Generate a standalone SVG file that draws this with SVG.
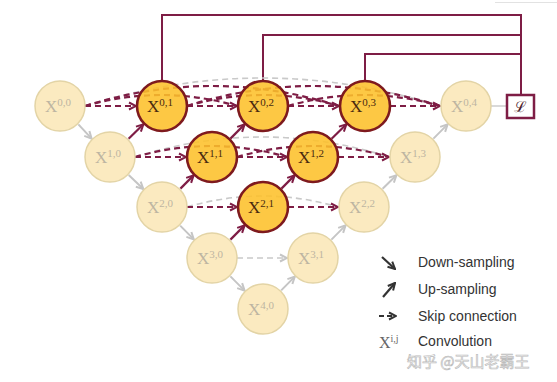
<svg xmlns="http://www.w3.org/2000/svg" width="557" height="382" viewBox="0 0 557 382">
<defs>
<style>
.act circle{fill:#FDC02A;fill-opacity:.88;stroke:#7E1A1E;stroke-width:2.6}
.ina circle{fill:#FBEAC0;stroke:#E3D4A6;stroke-width:1.5}
.act text{fill:#4a2a10}
.ina text{fill:#bdb5a2}
.lbl{font-family:"Liberation Serif","DejaVu Serif",serif;font-size:17px;text-anchor:middle}
.sup{font-size:11px}
.sk{fill:none;stroke:#7E1D45;stroke-width:2.2;stroke-dasharray:6 4}
.skg{fill:none;stroke:#C9C9C9;stroke-width:1.6;stroke-dasharray:6 4}
.up{fill:none;stroke:#7E1D45;stroke-width:2.2}
.upg{fill:none;stroke:#C5C5C5;stroke-width:2}
.fb{fill:none;stroke:#7E1D45;stroke-width:2}
.leg{font-family:"Liberation Sans",Arial,sans-serif;font-size:14px;fill:#333}
</style>
<marker id="am" viewBox="0 0 10 10" refX="9" refY="5" markerWidth="10" markerHeight="10" markerUnits="userSpaceOnUse" orient="auto">
<path d="M2,1.5 L9,5 L2,8.5" fill="none" stroke="#7E1D45" stroke-width="2"/>
</marker>
<marker id="ag" viewBox="0 0 10 10" refX="9" refY="5" markerWidth="10" markerHeight="10" markerUnits="userSpaceOnUse" orient="auto">
<path d="M2,1.5 L9,5 L2,8.5" fill="none" stroke="#C5C5C5" stroke-width="2"/>
</marker>
<marker id="ad" viewBox="0 0 10 10" refX="9" refY="5" markerWidth="10" markerHeight="10" markerUnits="userSpaceOnUse" orient="auto">
<path d="M2,1.5 L9,5 L2,8.5" fill="none" stroke="#333" stroke-width="2"/>
</marker>
</defs>
<rect width="557" height="382" fill="#fff"/>
<path d="M495,2.5 H557" stroke="#e2e2e2" stroke-width="1"/>

<g id="connectors">
<!-- feedback / deep supervision lines -->
<path class="fb" d="M162,81 V15 H521 V95"/>
<path class="fb" d="M263,81 V35 H521"/>
<path class="fb" d="M365,81 V54 H521"/>
<path d="M491,106 H507" stroke="#CCCCCC" stroke-width="1.5"/>
<!-- gray skip arcs -->
<path class="skg" d="M85,106 Q262,50 440,106"/>
<path class="skg" d="M135,157 Q262,117 389,157"/>
<path class="skg" d="M187,207 Q263,185 338,207"/>
<path class="skg" d="M237,258 L287,258" marker-end="url(#ag)"/>
<!-- maroon skip arcs -->
<path class="sk" d="M85,106 Q161,84 237,106"/>
<path class="sk" d="M85,106 Q212,66 339,106"/>
<path class="sk" d="M187,106 Q263,84 339,106"/>
<path class="sk" d="M187,106 Q313,66 440,106"/>
<path class="sk" d="M288,106 Q364,84 440,106"/>
<path class="sk" d="M135,157 Q211,135 287,157"/>
<path class="sk" d="M237,157 Q313,135 389,157"/>
<!-- straight skips -->
<path class="sk" d="M85,106 L136,106" marker-end="url(#am)"/>
<path class="sk" d="M187,106 L237,106" marker-end="url(#am)"/>
<path class="sk" d="M288,106 L339,106" marker-end="url(#am)"/>
<path class="sk" d="M390,106 L440,106" marker-end="url(#am)"/>
<path class="sk" d="M135,157 L186,157" marker-end="url(#am)"/>
<path class="sk" d="M237,157 L287,157" marker-end="url(#am)"/>
<path class="sk" d="M338,157 L389,157" marker-end="url(#am)"/>
<path class="sk" d="M187,207 L237,207" marker-end="url(#am)"/>
<path class="sk" d="M288,207 L338,207" marker-end="url(#am)"/>
<!-- down-sampling -->
<path class="upg" d="M78.4,124.4 L91.6,138.6" marker-end="url(#ag)"/>
<path class="upg" d="M128.7,175 L143.3,189" marker-end="url(#ag)"/>
<path class="upg" d="M180.2,225.6 L193.8,239.4" marker-end="url(#ag)"/>
<path class="upg" d="M230.4,276.4 L244.6,290.6" marker-end="url(#ag)"/>
<!-- up-sampling -->
<path class="up" d="M128.6,138.8 L143.4,124.2" marker-end="url(#am)"/>
<path class="up" d="M230.4,138.6 L244.6,124.4" marker-end="url(#am)"/>
<path class="up" d="M331.6,138.8 L346.4,124.2" marker-end="url(#am)"/>
<path class="upg" d="M433.4,138.6 L447.6,124.4" marker-end="url(#ag)"/>
<path class="up" d="M180.4,188.6 L193.6,175.4" marker-end="url(#am)"/>
<path class="up" d="M281.4,188.6 L294.6,175.4" marker-end="url(#am)"/>
<path class="upg" d="M382.6,188.8 L396.4,175.2" marker-end="url(#ag)"/>
<path class="up" d="M230.4,239.6 L244.6,225.4" marker-end="url(#am)"/>
<path class="upg" d="M331.4,239.6 L345.6,225.4" marker-end="url(#ag)"/>
<path class="upg" d="M281.2,290.4 L294.8,276.6" marker-end="url(#ag)"/>
</g>

<g id="X00" class="ina"><circle cx="60" cy="106" r="25"/><text class="lbl" x="58" y="112">X<tspan class="sup" dy="-6">0,0</tspan></text></g>
<g id="X01" class="act"><circle cx="162" cy="106" r="25"/><text class="lbl" x="160" y="112">X<tspan class="sup" dy="-6">0,1</tspan></text></g>
<g id="X02" class="act"><circle cx="263" cy="106" r="25"/><text class="lbl" x="261" y="112">X<tspan class="sup" dy="-6">0,2</tspan></text></g>
<g id="X03" class="act"><circle cx="365" cy="106" r="25"/><text class="lbl" x="363" y="112">X<tspan class="sup" dy="-6">0,3</tspan></text></g>
<g id="X04" class="ina"><circle cx="466" cy="106" r="25"/><text class="lbl" x="464" y="112">X<tspan class="sup" dy="-6">0,4</tspan></text></g>
<g id="X10" class="ina"><circle cx="110" cy="157" r="25"/><text class="lbl" x="108" y="163">X<tspan class="sup" dy="-6">1,0</tspan></text></g>
<g id="X11" class="act"><circle cx="212" cy="157" r="25"/><text class="lbl" x="210" y="163">X<tspan class="sup" dy="-6">1,1</tspan></text></g>
<g id="X12" class="act"><circle cx="313" cy="157" r="25"/><text class="lbl" x="311" y="163">X<tspan class="sup" dy="-6">1,2</tspan></text></g>
<g id="X13" class="ina"><circle cx="415" cy="157" r="25"/><text class="lbl" x="413" y="163">X<tspan class="sup" dy="-6">1,3</tspan></text></g>
<g id="X20" class="ina"><circle cx="162" cy="207" r="25"/><text class="lbl" x="160" y="213">X<tspan class="sup" dy="-6">2,0</tspan></text></g>
<g id="X21" class="act"><circle cx="263" cy="207" r="25"/><text class="lbl" x="261" y="213">X<tspan class="sup" dy="-6">2,1</tspan></text></g>
<g id="X22" class="ina"><circle cx="364" cy="207" r="25"/><text class="lbl" x="362" y="213">X<tspan class="sup" dy="-6">2,2</tspan></text></g>
<g id="X30" class="ina"><circle cx="212" cy="258" r="25"/><text class="lbl" x="210" y="264">X<tspan class="sup" dy="-6">3,0</tspan></text></g>
<g id="X31" class="ina"><circle cx="313" cy="258" r="25"/><text class="lbl" x="311" y="264">X<tspan class="sup" dy="-6">3,1</tspan></text></g>
<g id="X40" class="ina"><circle cx="263" cy="309" r="25"/><text class="lbl" x="261" y="315">X<tspan class="sup" dy="-6">4,0</tspan></text></g>

<g id="loss">
<rect x="507" y="95" width="27" height="23" fill="#fff" stroke="#7E1D45" stroke-width="2.5"/>
<text x="520.5" y="112" font-family="DejaVu Serif,serif" font-size="15" text-anchor="middle" fill="#4a1a2a">ℒ</text>
</g>

<g id="legend">
<path d="M382,257 L395,269" stroke="#333" stroke-width="2.2" marker-end="url(#ad)"/>
<path d="M383,297 L395,283" stroke="#333" stroke-width="2.2" marker-end="url(#ad)"/>
<path d="M379,316 L396,316" stroke="#333" stroke-width="2.2" stroke-dasharray="5 3" marker-end="url(#ad)"/>
<text x="379" y="348" font-family="Liberation Serif,serif" font-size="16" fill="#666">X<tspan font-size="10" dy="-6">i,j</tspan></text>
<text class="leg" x="418" y="267">Down-sampling</text>
<text class="leg" x="418" y="294">Up-sampling</text>
<text class="leg" x="418" y="321">Skip connection</text>
<text class="leg" x="418" y="346">Convolution</text>
</g>
<text x="407" y="367" font-family="Noto Sans CJK SC,sans-serif" font-size="15" fill="#fff" fill-opacity="0.8" stroke="#bdbdbd" stroke-width="0.7">知乎 @天山老霸王</text>
</svg>
